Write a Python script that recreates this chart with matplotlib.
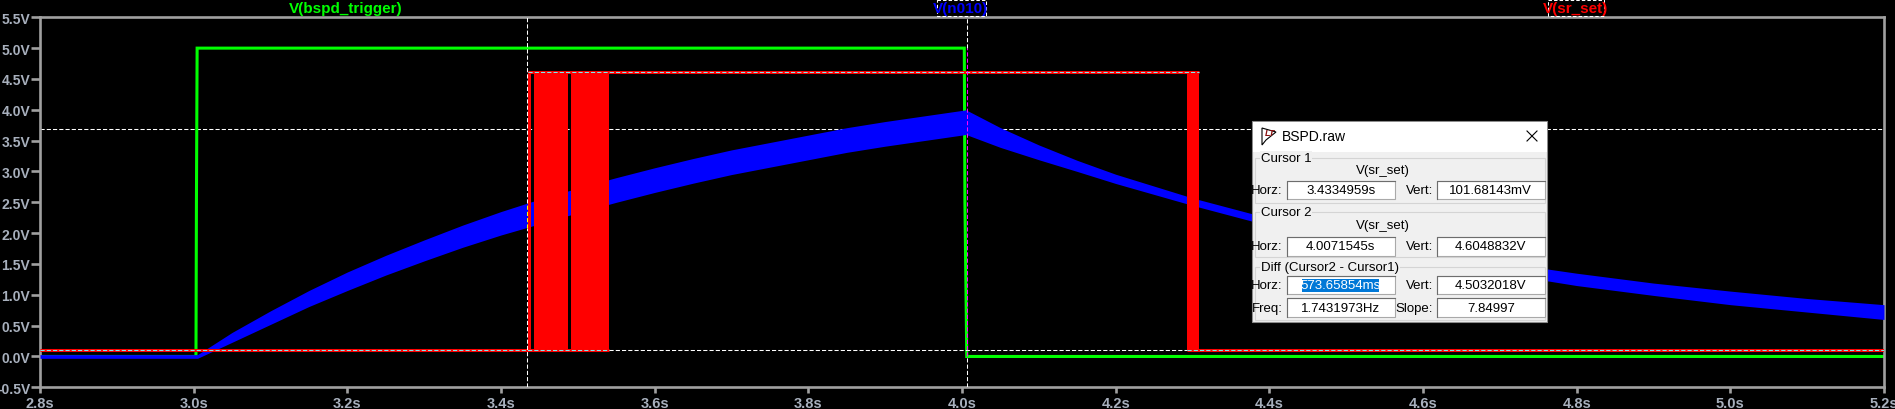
import matplotlib
matplotlib.use('Agg')
import matplotlib.pyplot as plt
import numpy as np
from matplotlib.patches import Rectangle, Polygon

plt.rcParams['lines.scale_dashes'] = False
NARROW = ['Liberation Sans Narrow', 'Liberation Sans', 'DejaVu Sans']
DLG_FONT = ['Liberation Sans', 'DejaVu Sans']

# ---------------- data ----------------
x_ticks = [2.8, 3.0, 3.2, 3.4, 3.6, 3.8, 4.0, 4.2, 4.4, 4.6, 4.8, 5.0, 5.2]
x_tick_labels = ['2.8s', '3.0s', '3.2s', '3.4s', '3.6s', '3.8s', '4.0s',
                 '4.2s', '4.4s', '4.6s', '4.8s', '5.0s', '5.2s']
y_ticks = [-0.5, 0.0, 0.5, 1.0, 1.5, 2.0, 2.5, 3.0, 3.5, 4.0, 4.5, 5.0, 5.5]
y_tick_labels = ['-0.5V', '0.0V', '0.5V', '1.0V', '1.5V', '2.0V', '2.5V',
                 '3.0V', '3.5V', '4.0V', '4.5V', '5.0V', '5.5V']

trace_names = ['V(bspd_trigger)', 'V(n010)', 'V(sr_set)']
trace_colors = ['#00ff00', '#0000ff', '#ff0000']

# V(bspd_trigger)
trig_t = [2.8, 3.0030, 3.0036, 3.0045, 4.0030, 4.0038, 4.0062, 5.2]
trig_v = [0.0, 0.0, 2.5, 5.0, 5.0, 2.5, 0.0, 0.0]

# V(n010) : ripple band (centre and half width)
n010_t = [2.8, 3.005, 3.05, 3.1, 3.15, 3.2, 3.25, 3.3, 3.35, 3.4, 3.45, 3.5,
          3.55, 3.6, 3.65, 3.7, 3.75, 3.8, 3.85, 3.9, 3.95, 4.0, 4.005, 4.05,
          4.1, 4.15, 4.2, 4.3, 4.4, 4.5, 4.6, 4.7, 4.8, 4.9, 5.0, 5.1, 5.2]
n010_mid = [0.0, 0.0, 0.31, 0.63, 0.94, 1.22, 1.48, 1.72, 1.95, 2.16, 2.35, 2.53,
            2.70, 2.86, 3.01, 3.15, 3.27, 3.39, 3.51, 3.61, 3.70, 3.79, 3.80, 3.55,
            3.31, 3.09, 2.88, 2.51, 2.18, 1.90, 1.65, 1.44, 1.25, 1.09, 0.95, 0.83, 0.72]
n010_half = [0.03, 0.03, 0.08, 0.11, 0.13, 0.15, 0.16, 0.17, 0.18, 0.19, 0.20, 0.20,
             0.20, 0.20, 0.20, 0.20, 0.20, 0.20, 0.20, 0.20, 0.20, 0.20, 0.20, 0.16,
             0.12, 0.09, 0.075, 0.06, 0.06, 0.07, 0.08, 0.09, 0.10, 0.10, 0.11, 0.11, 0.12]

# V(sr_set)
sr_low = 0.10168143
sr_high = 4.6048832
sr_low_start = [2.8, 4.2933]
sr_low_end = [3.5406, 5.2]
sr_high_start = [3.4348]
sr_high_end = [4.3089]
sr_burst_start = [3.4348, 3.4430, 3.4911, 4.2933]
sr_burst_end = [3.4387, 3.4876, 3.5406, 4.3089]

# cursors
cursor1_t, cursor1_v = 3.4334959, 0.10168143
cursor2_t, cursor2_v = 4.0071545, 4.6048832
ref_line_v = 3.686

# dialog contents
dlg_title = 'BSPD.raw'
cursor1_horz, cursor1_vert = '3.4334959s', '101.68143mV'
cursor2_horz, cursor2_vert = '4.0071545s', '4.6048832V'
diff_horz, diff_vert = '573.65854ms', '4.5032018V'
diff_freq, diff_slope = '1.7431973Hz', '7.84997'

# ---------------- figure ----------------
W, H = 1895, 410
fig = plt.figure(figsize=(W / 100, H / 100), dpi=100, facecolor='black')
L, R, T, B = 40, 1884, 18.3, 388.3
ax = fig.add_axes([L / W, 1 - B / H, (R - L) / W, (B - T) / H], facecolor='black')
ax.set_xlim(2.8, 5.2)
ax.set_ylim(-0.5, 5.5)

AXC = '#a0a0a0'
LABC = '#a8b0bd'
for s in ax.spines.values():
    s.set_color(AXC)
    s.set_linewidth(1.9)
ax.set_xticks(x_ticks)
ax.set_xticklabels(x_tick_labels, fontweight='bold', fontfamily=NARROW, fontsize=10.5)
ax.set_yticks(y_ticks)
ax.set_yticklabels(y_tick_labels, fontweight='bold', fontfamily=NARROW, fontsize=10)
ax.tick_params(axis='x', direction='out', length=4.2, width=1.9, color=AXC,
               pad=2.0, labelcolor=LABC)
ax.tick_params(axis='y', direction='out', length=6.5, width=1.9, color=AXC,
               pad=0.5, labelcolor=LABC)

DASH = (3.0, 1.5)
LW = 2.2

# reference dashed line (under traces)
ax.axhline(ref_line_v, color='white', lw=0.75, dashes=DASH, zorder=1)

# green trace
ax.plot(trig_t, trig_v, color=trace_colors[0], lw=LW, zorder=2,
        solid_joinstyle='miter', solid_capstyle='butt')

# blue band
mid = np.array(n010_mid)
half = np.array(n010_half)
ax.fill_between(n010_t, mid - half, mid + half, color=trace_colors[1], lw=0, zorder=3)

# red trace
for s, e in zip(sr_burst_start, sr_burst_end):
    ax.fill_between([s, e], [sr_low, sr_low], [sr_high, sr_high],
                    color=trace_colors[2], lw=0, zorder=4)
for s, e in zip(sr_low_start, sr_low_end):
    ax.plot([s, e], [sr_low, sr_low], color=trace_colors[2], lw=LW, zorder=4,
            solid_capstyle='butt')
for s, e in zip(sr_high_start, sr_high_end):
    ax.plot([s, e], [sr_high, sr_high], color=trace_colors[2], lw=LW, zorder=4,
            solid_capstyle='butt')

# cursor lines (XOR-like colours over traces)
CYAN, YEL, MAG = '#7fe8ee', '#ffff00', '#ff00ff'


def dline(xs, ys, c):
    ax.plot(xs, ys, color=c, lw=0.75, dashes=DASH, zorder=6)


# cursor 1 horizontal
dline([2.8, sr_low_end[0]], [cursor1_v] * 2, CYAN)
dline([sr_low_end[0], sr_low_start[1]], [cursor1_v] * 2, 'white')
dline([sr_low_start[1], 5.2], [cursor1_v] * 2, CYAN)
# cursor 2 horizontal (visible only over the red trace)
dline([sr_high_start[0], sr_high_end[0]], [cursor2_v] * 2, CYAN)
# cursor 1 vertical
c1_lo = float(np.interp(cursor1_t, n010_t, mid - half))
c1_hi = float(np.interp(cursor1_t, n010_t, mid + half))
dline([cursor1_t] * 2, [-0.5, c1_lo], 'white')
dline([cursor1_t] * 2, [c1_lo, c1_hi], YEL)
dline([cursor1_t] * 2, [c1_hi, 5.5], 'white')
# cursor 2 vertical
dline([cursor2_t] * 2, [-0.5, 0.0], 'white')
dline([cursor2_t] * 2, [0.0, 5.0], MAG)
dline([cursor2_t] * 2, [5.0, 5.5], 'white')

# ---------------- overlay (pixel coordinates) ----------------
ov = fig.add_axes([0, 0, 1, 1], zorder=10)
ov.set_xlim(0, W)
ov.set_ylim(H, 0)
ov.axis('off')
ov.patch.set_alpha(0)

# trace names above plot
name_x = [346, 961, 1576]
for nm, c, x in zip(trace_names, trace_colors, name_x):
    ov.text(x, 9, nm, color=c, fontsize=11, fontweight='bold', family=NARROW,
            ha='center', va='center')
for x0, x1 in [(936.6, 985.7), (1548, 1603.5)]:
    ov.add_patch(Rectangle((x0, 0.8), x1 - x0, 16, fill=False, ec='white',
                           lw=0.75, linestyle=(0, (2.5, 1.5))))

# dialog
DX0, DY0, DX1, DY1 = 1252, 122, 1547, 323
ov.add_patch(Rectangle((DX0, DY0), DX1 - DX0, DY1 - DY0, fc='#f0f0f0', ec='#8c8c8c', lw=0.8))
ov.add_patch(Rectangle((DX0 + 0.5, DY0 + 0.5), DX1 - DX0 - 1, 30, fc='white', ec='none'))
# icon
ov.add_patch(Polygon([(1262, 129), (1262, 146), (1266, 141), (1276, 133), (1262, 129)],
                     closed=True, fill=False, ec='black', lw=0.8))
ov.text(1270, 133.5, 'LT', color='#8b1010', fontsize=6.5, fontweight='bold',
        fontstyle='italic', family=DLG_FONT, ha='center', va='center')
ov.text(1282, 137, dlg_title, color='black', fontsize=10, family=DLG_FONT,
        ha='left', va='center')
ov.plot([1527, 1537], [132, 142], color='black', lw=0.8)
ov.plot([1527, 1537], [142, 132], color='black', lw=0.8)

# group boxes
GB = '#d4d4d4'
for (gy0, gy1) in [(159, 204), (213, 258), (268, 321)]:
    ov.add_patch(Rectangle((1255, gy0), 1545 - 1255, gy1 - gy0, fill=False, ec=GB, lw=0.8))
for txt, gy in [('Cursor 1', 159), ('Cursor 2', 213), ('Diff (Cursor2 - Cursor1)', 268)]:
    ov.text(1261, gy, txt, color='black', fontsize=9.5, family=DLG_FONT, ha='left',
            va='center', bbox=dict(fc='#f0f0f0', ec='none', pad=0.6))
ov.text(1383, 170.7, 'V(sr_set)', color='black', fontsize=9.5, family=DLG_FONT,
        ha='center', va='center')
ov.text(1383, 226, 'V(sr_set)', color='black', fontsize=9.5, family=DLG_FONT,
        ha='center', va='center')


def field(x0, x1, yc, txt, hl=False):
    y0 = yc - 9.2
    ov.add_patch(Rectangle((x0, y0), x1 - x0, 18.4, fc='white', ec='#a9a9a9', lw=0.8))
    ov.plot([x0, x0, x1], [y0 + 18.4, y0, y0], color='#6d6d6d', lw=0.8)
    xc = (x0 + x1) / 2
    if hl:
        ov.add_patch(Rectangle((1301.7, yc - 6.5), 1379.3 - 1301.7, 13, fc='#0078d7', ec='none'))
        ov.text(xc, yc, txt, color='white', fontsize=9.5, family=DLG_FONT,
                ha='center', va='center')
    else:
        ov.text(xc, yc, txt, color='black', fontsize=9.5, family=DLG_FONT,
                ha='center', va='center')


rows = [
    (191.0, 'Horz:', cursor1_horz, 'Vert:', cursor1_vert, False),
    (247.3, 'Horz:', cursor2_horz, 'Vert:', cursor2_vert, False),
    (286.0, 'Horz:', diff_horz, 'Vert:', diff_vert, True),
    (308.6, 'Freq:', diff_freq, 'Slope:', diff_slope, False),
]
for yc, l1, v1, l2, v2, hl in rows:
    ov.text(1282.3, yc, l1, color='black', fontsize=9.5, family=DLG_FONT, ha='right', va='center')
    field(1286.7, 1395, yc, v1, hl)
    ov.text(1432.7, yc, l2, color='black', fontsize=9.5, family=DLG_FONT, ha='right', va='center')
    field(1436.7, 1545, yc, v2)

fig.savefig('out.png', dpi=100, facecolor='black')
